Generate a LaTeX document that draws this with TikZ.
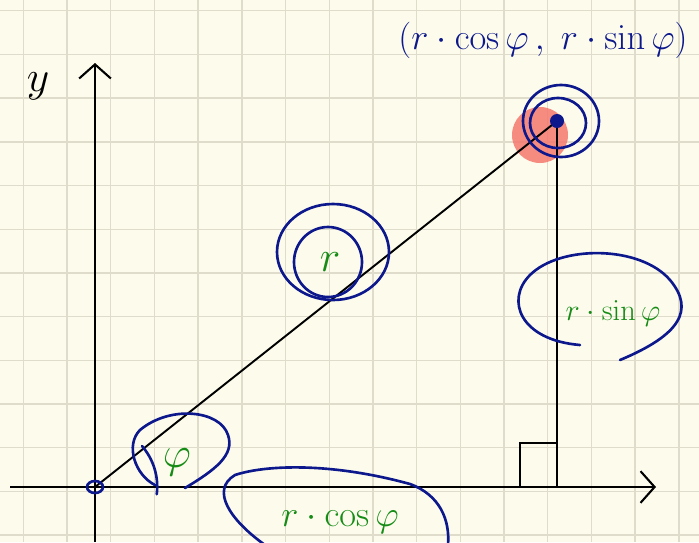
\documentclass[tikz,border=0pt]{standalone}
\usetikzlibrary{arrows.meta}
\definecolor{paper}{RGB}{253,252,236}
\definecolor{gridline}{RGB}{224,220,204}
\definecolor{ink}{RGB}{12,24,140}
\definecolor{pen}{RGB}{22,140,22}
\definecolor{marker}{RGB}{245,120,110}
\tikzset{
  scribble/.style={draw=ink,line width=1.5pt,line cap=round},
  axis/.style={line width=1.4pt,-{Straight Barb[length=8pt,width=18pt,line width=1.2pt]}},
  greentext/.style={text=pen,inner sep=0pt}
}
\begin{document}
\begin{tikzpicture}[x=0.02cm,y=-0.02cm]
\fill[paper] (0,0) rectangle (699,542);
\useasboundingbox (0,0) rectangle (699,542);
\foreach \i in {0,...,15} \draw[gridline,line width=0.8pt] (23.3+43.7*\i,0) -- (23.3+43.7*\i,542);
\foreach \j in {0,...,12} \draw[gridline,line width=0.8pt] (0,10.7+43.7*\j) -- (699,10.7+43.7*\j);
\coordinate (O) at (95,487);
\coordinate (P) at (557,121);
\coordinate (F) at (557,487);
\coordinate (xend) at (656,487);
\coordinate (yend) at (95,63);
\draw[axis] (10,487) -- (xend);
\draw[axis] (95,542) -- (yend);
\node[inner sep=0pt] (ylabel) at (38,86) {\fontsize{40}{40}\selectfont$y$};
\fill[marker,opacity=0.85] (540,135) circle (28);
\draw[line width=1.1pt] (O) -- (P);
\draw[line width=1.2pt] (P) -- (F);
\draw[line width=1.1pt] (520,487) -- (520,443) -- (557,443);
\fill[ink] (P) circle (7);
\draw[scribble] (O) ellipse (8 and 6);
\draw[scribble] (561,121) ellipse (38 and 36);
\draw[scribble] (558,123) ellipse (28 and 25);
\node[text=ink,inner sep=0pt] (coords) at (543,40) {\fontsize{20}{24}\selectfont$(r\cdot\cos\varphi\,,\;r\cdot\sin\varphi)$};
\node[greentext] (rlabel) at (330,262) {\fontsize{26}{26}\selectfont$r$};
\draw[scribble] (333,252) ellipse (56 and 48);
\draw[scribble] (328,262) ellipse (34 and 35);
\node[greentext] (sinlabel) at (613,313) {\fontsize{19}{22}\selectfont$r\cdot\sin\varphi$};
\draw[scribble] (580,345) .. controls (520,340) and (505,300) .. (530,275) .. controls (560,245) and (640,245) .. (670,280) .. controls (695,310) and (680,335) .. (620,360);
\node[greentext] (philabel) at (177,462) {\fontsize{28}{28}\selectfont$\varphi$};
\draw[scribble] (142,446) arc[start angle=-41,end angle=7,radius=62];
\draw[scribble] (185,488) .. controls (215,470) and (235,455) .. (228,435) .. controls (220,410) and (170,405) .. (140,430) .. controls (125,445) and (135,475) .. (155,485);
\node[greentext] (coslabel) at (340,522) {\fontsize{20}{24}\selectfont$r\cdot\cos\varphi$};
\draw[scribble] (265,545) .. controls (230,520) and (210,490) .. (235,475) .. controls (265,465) and (330,462) .. (410,484) .. controls (440,495) and (450,520) .. (448,545);
\end{tikzpicture}
\end{document}
